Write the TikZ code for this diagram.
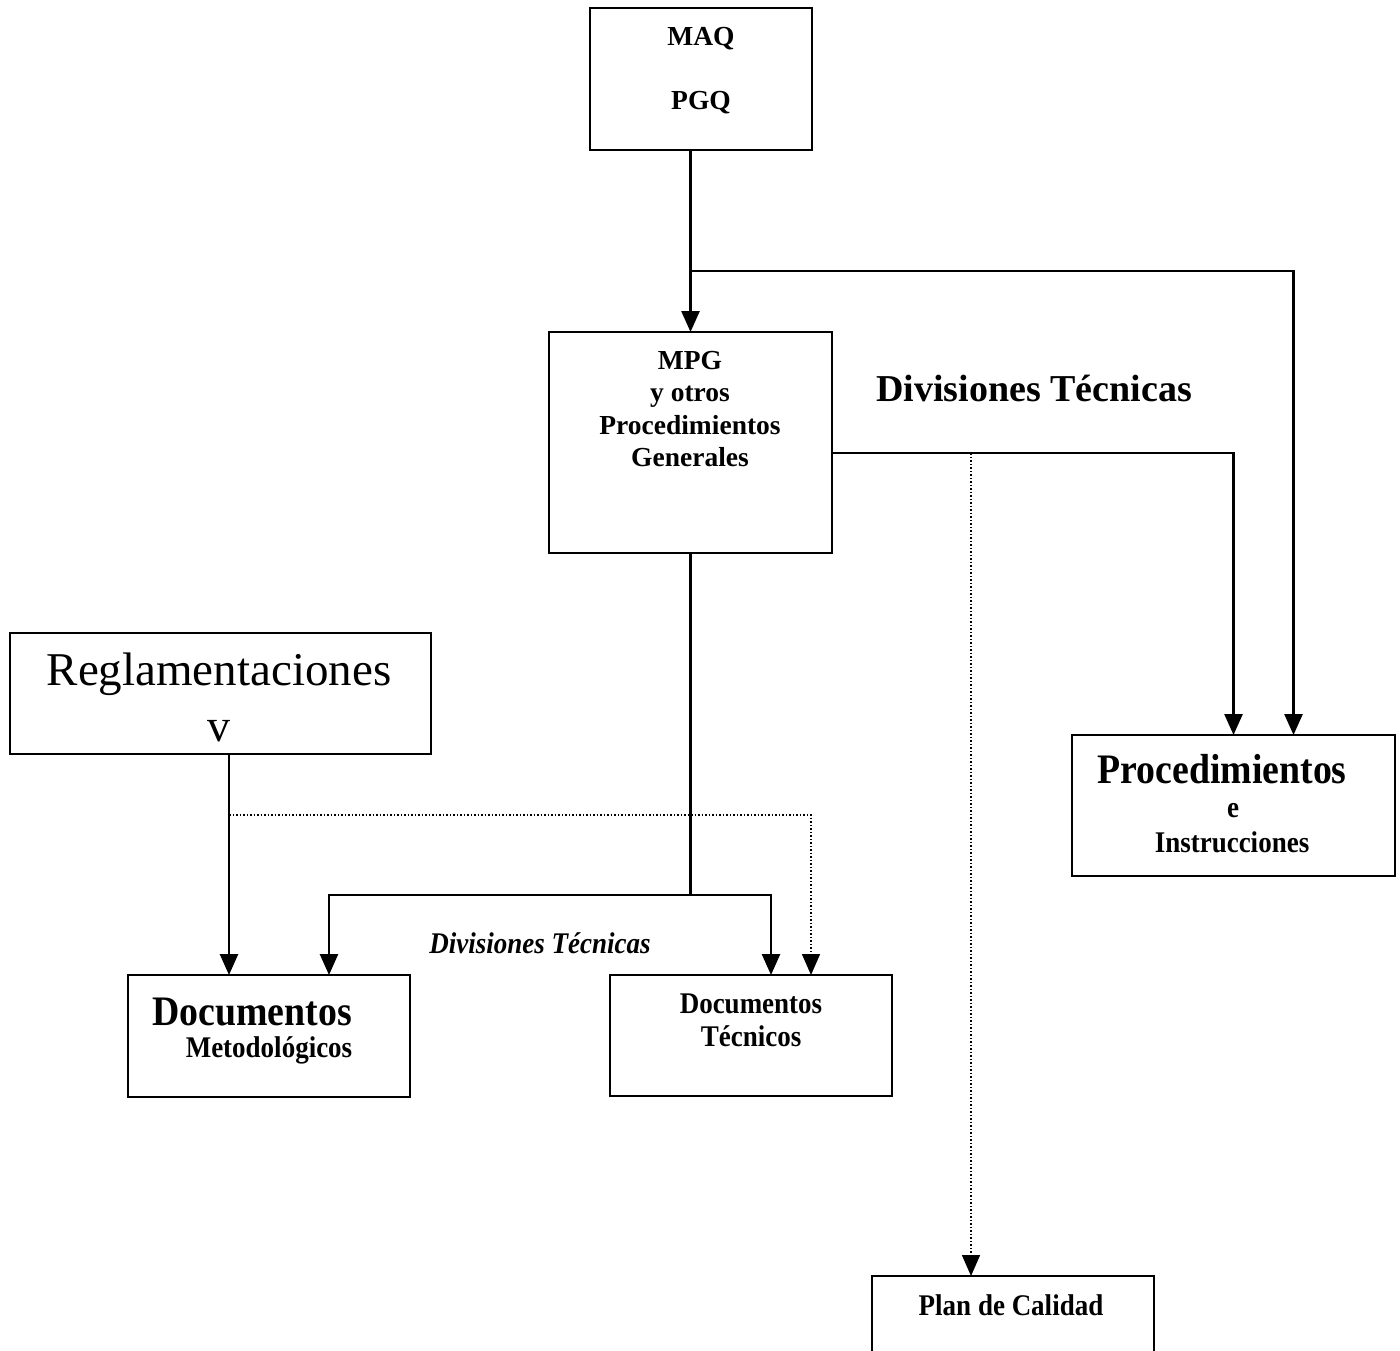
\documentclass[tikz,border=0pt]{standalone}
\usepackage{fontspec}
\setmainfont{Liberation Serif}
\newfontfamily\cond[FakeStretch=0.9]{Liberation Serif}
\usetikzlibrary{arrows.meta}

\begin{document}
\begin{tikzpicture}[x=1pt,y=-1pt,
  box/.style={draw, line width=2.6pt, inner sep=0pt, outer sep=0pt, anchor=north west},
  lbl/.style={inner sep=0pt, align=center},
  link/.style={line width=2.6pt},
  arr/.style={line width=2.6pt, -{Triangle[length=21pt,width=18pt]}},
  dotarr/.style={line width=1.5pt, dotted, -{Triangle[length=21pt,width=18pt]}},
  small/.style={lbl, font=\cond\bfseries\fontsize{30}{32.5}\selectfont},
]
\useasboundingbox (0,0) rectangle (1400,1350);

% boxes
\node[box, minimum width=222pt, minimum height=142pt] (maq)  at (590,8) {};
\node[box, minimum width=283pt, minimum height=221pt] (mpg)  at (549,332) {};
\node[box, minimum width=421pt, minimum height=121pt] (reg)  at (10,633) {};
\node[box, minimum width=323pt, minimum height=141pt] (proc) at (1072,735) {};
\node[box, minimum width=282pt, minimum height=122pt] (docm) at (128,975) {};
\node[box, minimum width=282pt, minimum height=121pt] (doct) at (610,975) {};
\node[box, minimum width=282pt, minimum height=120pt] (plan) at (872,1276) {};

% box texts
\node[lbl, font=\bfseries\fontsize{27.5}{28}\selectfont] (tmaq) at (701,39) {MAQ};
\node[lbl, font=\bfseries\fontsize{27.5}{28}\selectfont] (tpgq) at (701,103) {PGQ};
\node[lbl, font=\bfseries\fontsize{27.5}{32.5}\selectfont, anchor=north] (tmpg) at (690,351)
  {MPG\\y otros\\Procedimientos\\Generales};
\node[lbl, font=\fontsize{47}{50}\selectfont] (treg) at (219,674) {Reglamentaciones};
\node[lbl, font=\fontsize{46}{50}\selectfont] (tregv) at (219,731) {v};
\node[lbl, font=\cond\bfseries\fontsize{42}{44}\selectfont] (tproc) at (1222,769) {Procedimientos};
\node[small] (tproce) at (1233,811) {e};
\node[small] (tproci) at (1232,842) {Instrucciones};
\node[lbl, font=\cond\bfseries\fontsize{42}{44}\selectfont] (tdocm) at (252,1012) {Documentos};
\node[small] (tdocmm) at (269,1050) {Metodológicos};
\node[small] (tdoct) at (751,1004) {Documentos};
\node[small] (tdoctt) at (751,1036) {Técnicos};
\node[small] (tplan) at (1011,1305) {Plan de Calidad};

% free labels
\node[lbl, font=\bfseries\fontsize{38}{40}\selectfont] (divtop) at (1034,388) {Divisiones Técnicas};
\node[lbl, font=\cond\bfseries\itshape\fontsize{30}{32}\selectfont] (divlow) at (540,943) {Divisiones Técnicas};

% heights of the branch lines
\coordinate (ytop) at (0,271);
\coordinate (ympg) at (0,453);
\coordinate (ysplit) at (0,895);
\coordinate (yreg) at (0,815);

% junction points
\coordinate (j1) at (mpg.north |- ytop);
\coordinate (s1) at (mpg.south |- ysplit);
\coordinate (p2) at ([xshift=60pt]proc.north);
\coordinate (dm1) at ([xshift=-40pt]docm.north);
\coordinate (dm2) at ([xshift=60pt]docm.north);
\coordinate (dt1) at ([xshift=20pt]doct.north);
\coordinate (dt2) at ([xshift=60pt]doct.north);
\coordinate (pl1) at ([xshift=-42pt]plan.north);

% connectors from the top
\draw[arr] (maq.south -| mpg.north) -- (mpg.north);
\draw[arr] (j1) -| (p2);
\draw[arr] (mpg.east |- ympg) -| (proc.north);
\draw[dotarr] (pl1 |- ympg) -- (pl1);

% connectors to the documents
\draw[link] (mpg.south) -- (s1);
\draw[arr] (s1) -| (dm2);
\draw[arr] (s1) -| (dt1);
\draw[arr] (dm1 |- reg.south) -- (dm1);
\draw[dotarr] (dm1 |- yreg) -| (dt2);
\end{tikzpicture}
\end{document}
